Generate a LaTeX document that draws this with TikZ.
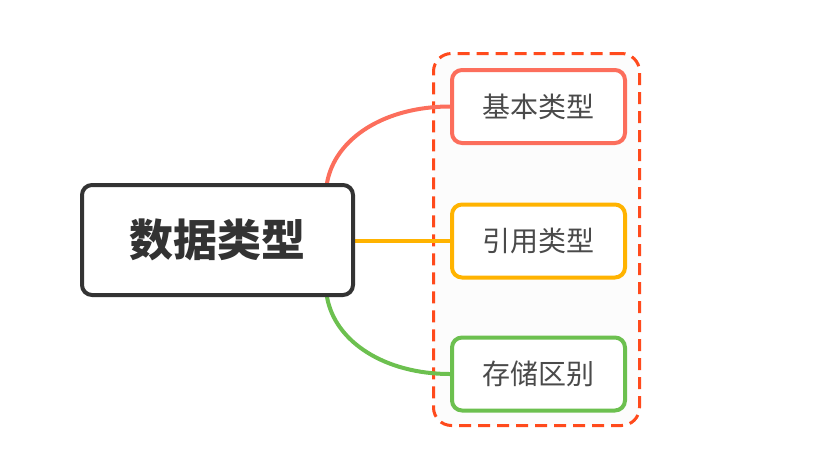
\documentclass[tikz,border=0pt]{standalone}
\usepackage{fontspec}
\newfontfamily\cjk{Noto Sans CJK SC}
\definecolor{cdark}{HTML}{333333}
\definecolor{ctext}{HTML}{4A4A4A}
\definecolor{cred}{HTML}{FC6E5C}
\definecolor{corange}{HTML}{FFB300}
\definecolor{cgreen}{HTML}{6CC04F}
\definecolor{cdash}{HTML}{FF4A1C}
\definecolor{cboxfill}{HTML}{FCFCFC}
\pgfdeclarelayer{bg}
\pgfdeclarelayer{lines}
\pgfsetlayers{bg,lines,main}
\tikzset{
  root/.style={draw=cdark, line width=4pt, rounded corners=10pt, fill=white,
    minimum width=271pt, minimum height=110pt, inner sep=0pt,
    font=\cjk\bfseries\fontsize{44}{50}\selectfont, text=cdark},
  child/.style={line width=4pt, rounded corners=10pt, fill=white,
    minimum width=173pt, minimum height=73pt, inner sep=0pt,
    font=\cjk\fontsize{28}{32}\selectfont, text=ctext},
  group/.style={draw=cdash, line width=3pt, dash pattern=on 12pt off 7pt,
    rounded corners=18pt, fill=cboxfill, minimum width=206pt, minimum height=372pt, inner sep=0pt},
  link/.style={line width=4pt, line cap=round}
}
\begin{document}
\begin{tikzpicture}[x=1pt,y=-1pt]
\useasboundingbox (0,0) rectangle (828,467);
\node[root] (c) at (217.5,240) {数据类型};
\node[child, draw=cred] (b1) at (538.5,106.5) {基本类型};
\node[child, draw=corange] (b2) at (538.5,241) {引用类型};
\node[child, draw=cgreen] (b3) at (538.5,374) {存储区别};
\begin{pgfonlayer}{bg}
\node[group] (g) at (536.5,239.5) {};
\end{pgfonlayer}
\begin{pgfonlayer}{lines}
\draw[link, cred] ([xshift=-28pt]c.north east) .. controls +(8,-45) and +(-65,0) .. (b1.west);
\draw[link, corange] (c.east |- b2.west) -- (b2.west);
\draw[link, cgreen] ([xshift=-28pt]c.south east) .. controls +(8,45) and +(-65,0) .. (b3.west);
\end{pgfonlayer}
\end{tikzpicture}
\end{document}
